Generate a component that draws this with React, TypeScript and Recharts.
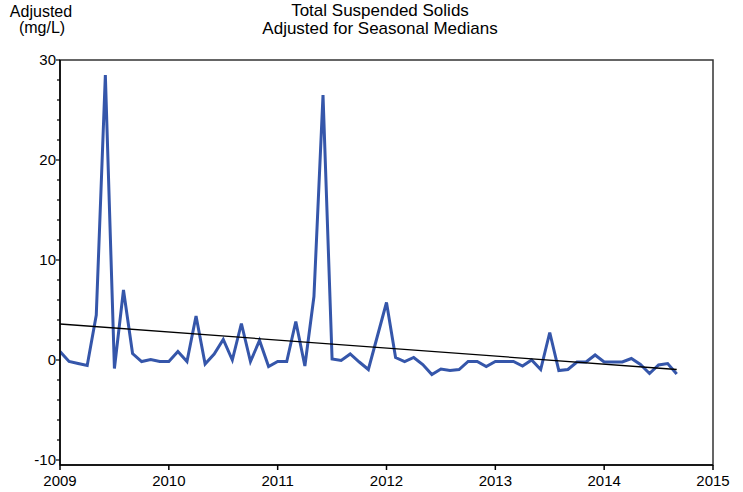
import React from "react";
import {
  LineChart,
  Line,
  XAxis,
  YAxis,
  ReferenceArea,
} from "recharts";

// monthly samples, Jan 2009 .. Sep 2014
const years = [2009, 2010, 2011, 2012, 2013, 2014];
const monthNames = ["Jan", "Feb", "Mar", "Apr", "May", "Jun", "Jul", "Aug", "Sep", "Oct", "Nov", "Dec"];

const adjusted2009 = [0.85, -0.15, -0.35, -0.55, 4.5, 28.5, -0.85, 7.0, 0.65, -0.15, 0.05, -0.15];
const adjusted2010 = [-0.15, 0.85, -0.15, 4.4, -0.4, 0.6, 2.05, 0.0, 3.65, -0.15, 1.95, -0.65];
const adjusted2011 = [-0.15, -0.15, 3.85, -0.6, 6.35, 26.5, 0.1, -0.05, 0.6, -0.2, -0.95, 2.4];
const adjusted2012 = [5.75, 0.25, -0.15, 0.25, -0.45, -1.45, -0.9, -1.05, -0.95, -0.15, -0.15, -0.65];
const adjusted2013 = [-0.15, -0.15, -0.15, -0.6, 0.0, -0.95, 2.75, -1.05, -0.95, -0.2, -0.2, 0.5];
const adjusted2014 = [-0.2, -0.2, -0.2, 0.15, -0.45, -1.35, -0.5, -0.35, -1.4];

// trend line end points
const trendStart = 3.6;
const trendEnd = -0.95;

const xTicks = [2009, 2010, 2011, 2012, 2013, 2014, 2015];
const yTicks = [-10, -8, -6, -4, -2, 0, 2, 4, 6, 8, 10, 12, 14, 16, 18, 20, 22, 24, 26, 28, 30];

const yearValues = [adjusted2009, adjusted2010, adjusted2011, adjusted2012, adjusted2013, adjusted2014];

const data: { t: number; label: string; value: number; trend?: number }[] = [];
yearValues.forEach((vals, yi) => {
  vals.forEach((v, mi) => {
    data.push({ t: years[yi] + mi / 12, label: `${monthNames[mi]} ${years[yi]}`, value: v });
  });
});
data[0].trend = trendStart;
data[data.length - 1].trend = trendEnd;

const FONT = "'Liberation Sans', Arial, sans-serif";

const YTick = (props: any) => {
  const { x, y, payload } = props;
  const major = payload.value % 10 === 0;
  return (
    <g>
      <line x1={x - (major ? 4 : 3)} x2={x} y1={y} y2={y} stroke="#000" strokeWidth={1.2} />
      {major && (
        <text x={x - 4} y={y} dy="0.36em" textAnchor="end" fontSize={15} fontFamily={FONT} fill="#000">
          {payload.value}
        </text>
      )}
    </g>
  );
};

export default function App() {
  return (
    <div style={{ position: "absolute", left: 0, top: 0, width: 743, height: 492, background: "#fff" }}>
      <LineChart
        width={743}
        height={492}
        data={data}
        margin={{ top: 60, right: 30, left: 8, bottom: 0 }}
      >
        <XAxis
          dataKey="t"
          type="number"
          domain={[2009, 2015]}
          ticks={xTicks}
          allowDataOverflow
          height={27}
          tickSize={5}
          tickMargin={5}
          stroke="#000"
          strokeWidth={1.5}
          tick={{ fill: "#000", fontSize: 15, fontFamily: FONT }}
        />
        <YAxis
          type="number"
          domain={[-10.5, 30]}
          ticks={yTicks}
          allowDataOverflow
          width={52}
          tickLine={false}
          tickSize={0}
          tickMargin={0}
          stroke="#000"
          strokeWidth={1.5}
          tick={<YTick />}
          interval={0}
        />
        <ReferenceArea
          x1={2009}
          x2={2015}
          y1={-10.5}
          y2={30}
          fill="none"
          stroke="#333"
          strokeWidth={1.5}
          ifOverflow="visible"
        />
        <Line
          dataKey="value"
          stroke="#3556AA"
          strokeWidth={3}
          dot={false}
          isAnimationActive={false}
        />
        <Line
          dataKey="trend"
          stroke="#000"
          strokeWidth={1.3}
          dot={false}
          connectNulls
          isAnimationActive={false}
        />
      </LineChart>
      <svg
        width={743}
        height={492}
        style={{ position: "absolute", left: 0, top: 0, pointerEvents: "none" }}
        fontFamily={FONT}
      >
        <text x={380} y={16} textAnchor="middle" fontSize={17} fill="#000">
          Total Suspended Solids
        </text>
        <text x={380} y={34} textAnchor="middle" fontSize={17} fill="#000">
          Adjusted for Seasonal Medians
        </text>
        <text x={41} y={17} textAnchor="middle" fontSize={16} fill="#000">
          Adjusted
        </text>
        <text x={42} y={33} textAnchor="middle" fontSize={16} fill="#000">
          (mg/L)
        </text>
      </svg>
    </div>
  );
}
